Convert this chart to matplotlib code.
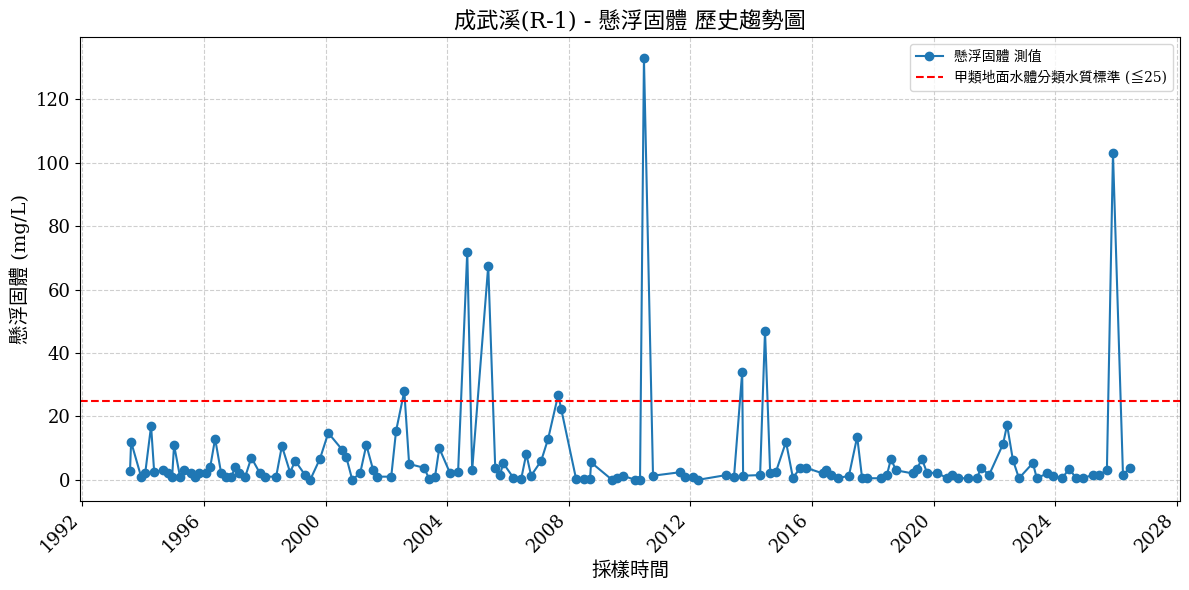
import pandas as pd
import matplotlib
matplotlib.use("Agg")
import matplotlib.pyplot as plt
import matplotlib.dates as mdates

plt.rcParams['font.family'] = ['DejaVu Serif', 'Noto Sans CJK TC']
plt.rcParams['axes.unicode_minus'] = False

sample_dates = [
    "1993-07-28", "1993-08-10", "1993-12-08", "1994-01-26", "1994-04-07", "1994-05-14",
    "1994-08-28", "1994-10-30", "1994-12-16", "1995-01-08", "1995-03-20", "1995-05-08",
    "1995-07-30", "1995-09-16", "1995-11-06", "1996-01-30", "1996-03-17", "1996-05-15",
    "1996-07-27", "1996-09-24", "1996-11-24", "1997-01-12", "1997-02-28", "1997-05-12",
    "1997-07-24", "1997-11-06", "1998-01-08", "1998-05-18", "1998-07-26", "1998-11-02",
    "1999-01-01", "1999-05-01", "1999-07-01", "1999-10-27", "2000-02-03", "2000-07-19",
    "2000-09-05", "2000-11-17", "2001-02-21", "2001-05-05", "2001-07-27", "2001-09-13",
    "2002-02-28", "2002-04-27", "2002-08-04", "2002-10-01", "2003-03-29", "2003-05-30",
    "2003-08-08", "2003-09-28", "2004-02-06", "2004-05-11", "2004-08-29", "2004-10-27",
    "2005-05-08", "2005-07-31", "2005-09-27", "2005-11-03", "2006-03-05", "2006-06-08",
    "2006-08-08", "2006-10-05", "2007-02-03", "2007-04-28", "2007-08-26", "2007-10-01",
    "2008-03-28", "2008-07-01", "2008-09-12", "2008-09-24", "2009-06-03", "2009-08-04",
    "2009-10-12", "2010-03-07", "2010-05-05", "2010-06-21", "2010-10-08", "2011-08-29",
    "2011-10-26", "2012-01-30", "2012-04-01", "2013-03-04", "2013-06-07", "2013-09-13",
    "2013-09-24", "2014-04-16", "2014-06-14", "2014-08-15", "2014-10-23", "2015-02-21",
    "2015-05-16", "2015-08-08", "2015-10-20", "2016-05-11", "2016-06-17", "2016-08-15",
    "2016-11-07", "2017-03-18", "2017-06-25", "2017-08-23", "2017-10-24", "2018-04-09",
    "2018-06-18", "2018-08-04", "2018-10-05", "2019-04-28", "2019-06-14", "2019-08-11",
    "2019-10-12", "2020-02-10", "2020-06-10", "2020-08-08", "2020-10-20", "2021-02-14",
    "2021-06-03", "2021-07-20", "2021-10-27", "2022-04-12", "2022-05-30", "2022-08-08",
    "2022-10-20", "2023-04-05", "2023-05-22", "2023-09-20", "2023-12-02", "2024-03-22",
    "2024-06-14", "2024-09-06", "2024-11-28", "2025-03-26", "2025-06-07", "2025-09-10",
    "2025-11-22", "2026-03-22", "2026-06-14",
]
ss_values = [
    2.8, 12.0, 1.0, 2.0, 17.0, 2.5,
    3.0, 2.0, 1.0, 11.0, 1.0, 3.0,
    2.0, 1.0, 2.0, 2.0, 4.0, 13.0,
    2.0, 1.0, 1.0, 4.0, 2.0, 1.0,
    7.0, 2.0, 1.0, 1.0, 10.7, 2.3,
    6.0, 1.5, 0.0, 6.7, 14.8, 9.5,
    7.3, 0.0, 2.2, 11.0, 3.0, 1.0,
    1.0, 15.4, 28.0, 5.0, 3.8, 0.3,
    1.0, 10.0, 2.0, 2.5, 72.0, 3.0,
    67.5, 3.8, 1.5, 5.3, 0.7, 0.3,
    8.2, 1.3, 6.0, 13.0, 26.8, 22.4,
    0.3, 0.3, 0.3, 5.5, 0.0, 0.5,
    1.3, 0.0, 0.0, 133.0, 1.3, 2.4,
    1.0, 1.0, 0.0, 1.5, 1.0, 34.0,
    1.3, 1.5, 47.0, 2.2, 2.5, 12.0,
    0.5, 3.8, 3.8, 2.0, 3.0, 1.6,
    0.5, 1.3, 13.6, 0.5, 0.5, 0.5,
    1.6, 6.6, 3.0, 2.0, 3.5, 6.6,
    2.2, 2.2, 0.5, 1.6, 0.5, 0.5,
    0.5, 3.8, 1.6, 11.3, 17.3, 6.3,
    0.5, 5.3, 0.5, 2.0, 1.2, 0.5,
    3.5, 0.5, 0.5, 1.6, 1.6, 3.0,
    103.0, 1.6, 3.8,
]
standard_limit = 25

dates = pd.to_datetime(sample_dates)

fig, ax = plt.subplots(figsize=(11.89, 5.9), dpi=100)
ax.plot(dates, ss_values, marker='o', markersize=6, linewidth=1.5,
        color='#1f77b4', label='懸浮固體 測值')
ax.axhline(standard_limit, color='red', linestyle='--', linewidth=1.5,
           label='甲類地面水體分類水質標準 (≦25)')

ax.set_title('成武溪(R-1) - 懸浮固體 歷史趨勢圖', fontsize=16)
ax.set_xlabel('採樣時間', fontsize=14)
ax.set_ylabel('懸浮固體 (mg/L)', fontsize=14)
ax.xaxis.set_major_locator(mdates.YearLocator(4))
ax.xaxis.set_major_formatter(mdates.DateFormatter('%Y'))
ax.tick_params(labelsize=13)
plt.setp(ax.get_xticklabels(), rotation=45, ha='right')
ax.grid(True, linestyle='--', alpha=0.6)
ax.legend(loc='upper right', fontsize=10)

fig.subplots_adjust(left=0.0673, right=0.9924, top=0.937, bottom=0.151)
plt.savefig('out.png', dpi=100)
